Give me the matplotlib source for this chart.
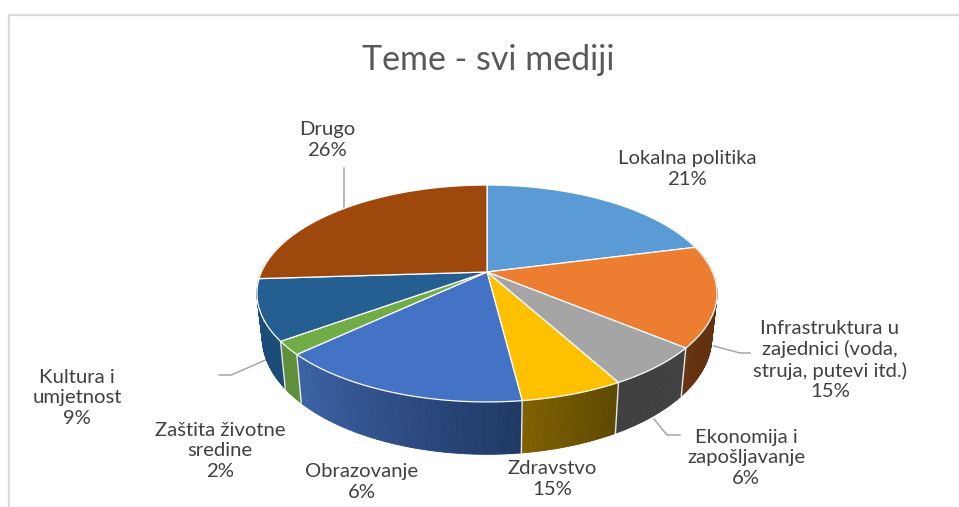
import numpy as np
import matplotlib
matplotlib.use("Agg")
import matplotlib.pyplot as plt
from matplotlib.collections import PolyCollection
from matplotlib.colors import to_rgb

plt.rcParams["font.family"] = ["Lato", "DejaVu Sans"]

title = "Teme - svi mediji"
topics = ["Lokalna politika", "Infrastruktura u\nzajednici (voda,\nstruja, putevi itd.)",
          "Ekonomija i\nzapošljavanje", "Obrazovanje", "Zdravstvo",
          "Zaštita životne\nsredine", "Kultura i\numjetnost", "Drugo"]
shares = [21, 15, 6, 6, 15, 2, 9, 26]
top_colors = ["#5B9BD5", "#ED7D31", "#A5A5A5", "#FFC000", "#4472C4", "#70AD47", "#255E91", "#9E480E"]
# wall colours, start and end of each slice going clockwise
wall_colors = [("#3f729f", "#3f729f"), ("#5a2c0e", "#66330f"), ("#404040", "#404040"),
               ("#5c4800", "#806000"), ("#1f3864", "#3c62a6"), ("#5f8f38", "#5f8f38"),
               ("#1c4d78", "#1c4d78"), ("#773609", "#773609")]

# label centre in pixels
label_pos = [(687, 169), (830, 360), (746, 458), (362, 482), (552, 479), (220, 451), (77, 398), (327, 140)]
leaders = [None,
           [(714, 346), (740, 353), (750, 353)],
           [(654, 419), (667, 435), (680, 435)],
           None, None, None,
           [(268, 359), (231, 375), (219, 375)],
           [(344, 210), (344, 168)]]

CX, CY = 487.0, 272.0
RX, RY, PERSP = 225.5, 104.2, 0.198
DEPTH, SHRINK = 42.0, 0.977


def project(theta):
    # clockwise from 12 o'clock, with a simple perspective on the disc
    u, v = np.sin(theta), np.cos(theta)
    w = 1 + PERSP * v
    return CX + RX * u / w, CY - RY * v / w, w


def lower(theta):
    x, y, w = project(theta)
    return CX + (x - CX) * SHRINK, y + DEPTH / w


fig = plt.figure(figsize=(9.59, 5.07), dpi=100, facecolor="white")
ax = fig.add_axes([0, 0, 1, 1])
ax.set_xlim(0, 959)
ax.set_ylim(507, 0)
ax.axis("off")

# chart frame, only top and left show in the crop
ax.plot([9, 9, 959], [507, 15, 15], color="#d9d9d9", lw=1.6, solid_joinstyle="miter")

edges = np.cumsum([0] + shares) / sum(shares) * 2 * np.pi

# walls first
for i in range(len(shares)):
    th = np.linspace(edges[i], edges[i + 1], int(shares[i] * 6) + 2)
    c0, c1 = np.array(to_rgb(wall_colors[i][0])), np.array(to_rgb(wall_colors[i][1]))
    polys, cols = [], []
    for j in range(len(th) - 1):
        x0, y0, _ = project(th[j])
        x1, y1, _ = project(th[j + 1])
        x2, y2 = lower(th[j + 1])
        x3, y3 = lower(th[j])
        if np.cos((th[j] + th[j + 1]) / 2) > 0.35:
            continue
        polys.append([(x0, y0), (x1, y1), (x2, y2), (x3, y3)])
        t = j / max(len(th) - 2, 1)
        cols.append(c0 + (c1 - c0) * t)
    if polys:
        ax.add_collection(PolyCollection(polys, facecolors=cols, edgecolors=cols, linewidths=0.6, zorder=2))

# white seams on the front wall
for e in edges:
    if np.cos(e) < 0:
        x, y, _ = project(e)
        xl, yl = lower(e)
        ax.plot([x, xl], [y, yl], color="#e8e8e8", lw=1.0, zorder=3)

# top of the pie
for i in range(len(shares)):
    th = np.linspace(edges[i], edges[i + 1], int(shares[i] * 6) + 2)
    x, y, _ = project(th)
    ax.fill(np.r_[CX, x], np.r_[CY, y], facecolor=top_colors[i], edgecolor="white", lw=0.9, zorder=4,
            joinstyle="round")

for pts in leaders:
    if pts:
        xs, ys = zip(*pts)
        ax.plot(xs, ys, color="#a6a6a6", lw=1.1, zorder=1)

for name, val, (lx, ly) in zip(topics, shares, label_pos):
    ax.text(lx, ly, f"{name}\n{val}%", ha="center", va="center", fontsize=14.6,
            color="#404040", linespacing=1.22, zorder=5)

ax.text(488, 60, title, ha="center", va="center", fontsize=24.5, color="#595959", zorder=5)

fig.savefig("out.png", dpi=100)
plt.close(fig)
